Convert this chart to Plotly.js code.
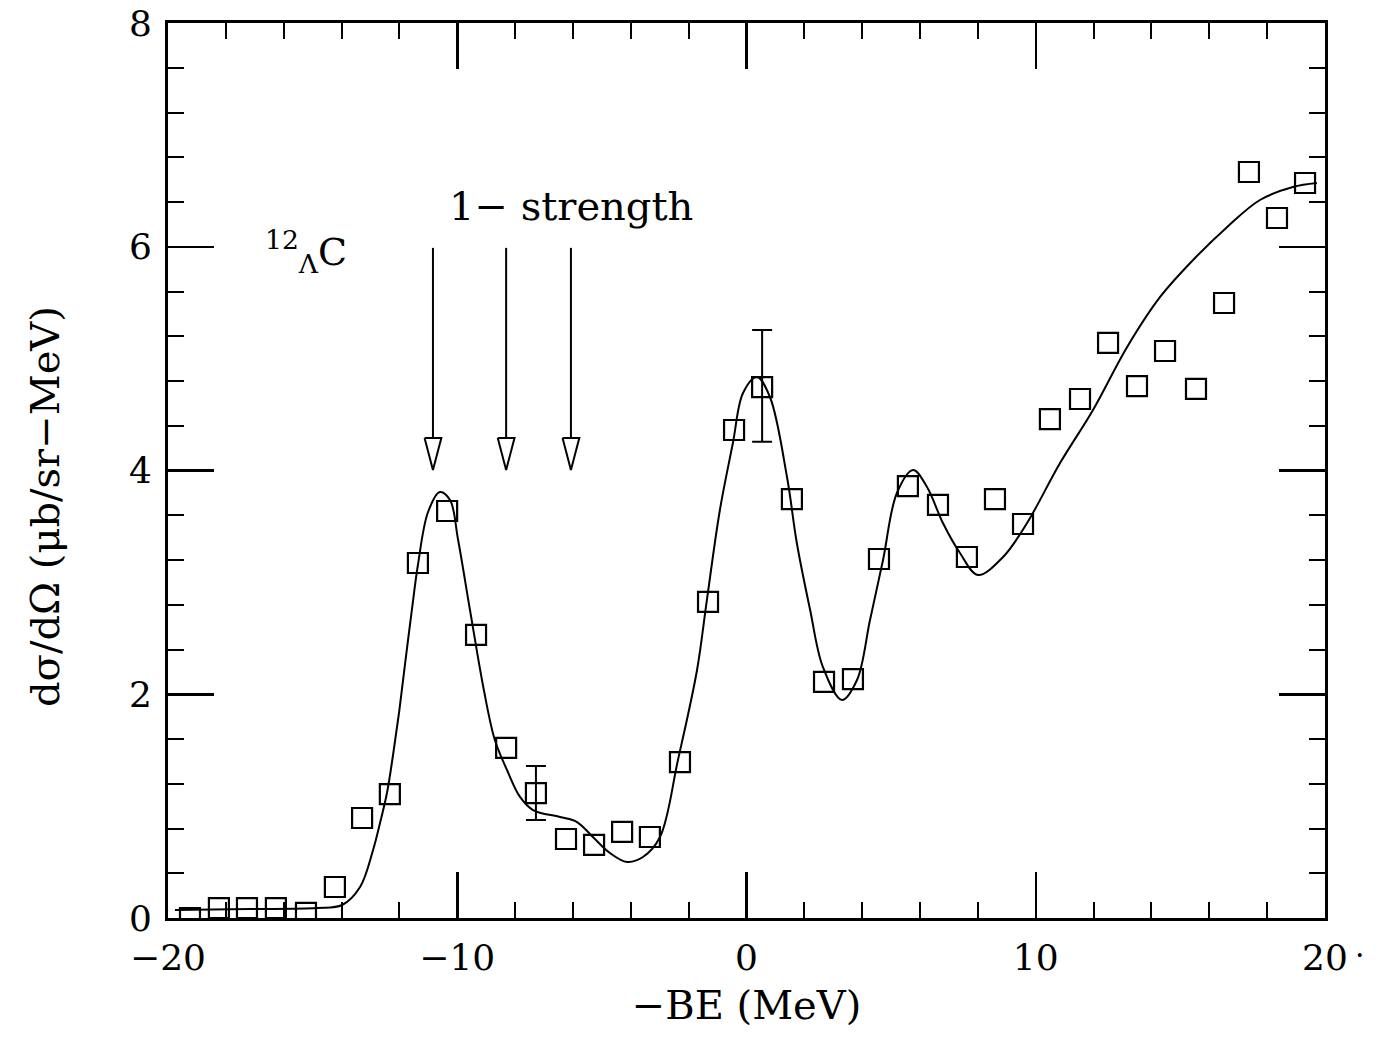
<!DOCTYPE html>
<html><head><meta charset="utf-8">
<script src="https://cdn.plot.ly/plotly-3.0.1.min.js"></script>
<style>body{margin:0;background:#fff}</style>
</head><body>
<div id="chart" style="width:1389px;height:1039px"></div>
<script>
// measured data points (-BE in MeV, cross section)
const dataX = [-19.24,-18.24,-17.27,-16.27,-15.23,-14.23,-13.29,-12.33,-11.36,-10.35,
  -9.35,-8.31,-7.28,-6.24,-5.27,-4.30,-3.34,-2.30,-1.33,-0.43,
  0.54,1.57,2.68,3.68,4.58,5.58,6.62,7.62,8.59,9.56,
  10.49,11.53,12.50,13.50,14.47,15.54,16.51,17.37,18.34,19.31];
const dataY = [0.0,0.089,0.089,0.089,0.045,0.277,0.894,1.108,3.173,3.638,
  2.53,1.52,1.117,0.706,0.653,0.769,0.724,1.394,2.825,4.362,
  4.746,3.745,2.11,2.136,3.209,3.861,3.692,3.227,3.745,3.522,
  4.46,4.639,5.14,4.755,5.068,4.729,5.497,6.668,6.257,6.57];
// points carrying error bars
const errX = [-7.28, 0.54];
const errY = [1.117, 4.746];
const errUp = [0.242, 0.51];
const errDown = [0.241, 0.49];
// fitted curve
const curveX = [-19.76,-17.17,-14.85,-13.98,-13.36,-12.91,-12.67,-12.43,-12.22,-12.01,
  -11.81,-11.56,-11.36,-11.01,-10.60,-10.25,-9.97,-9.56,-9.08,-8.70,
  -8.28,-7.83,-7.38,-6.45,-5.86,-5.31,-4.72,-4.13,-3.58,-2.99,
  -2.37,-1.71,-1.37,-0.92,-0.47,-0.12,0.36,0.81,1.40,1.74,
  2.20,2.64,3.30,3.82,4.27,4.72,5.20,5.76,6.24,6.79,
  7.38,8.00,8.87,9.70,10.84,11.98,13.16,14.30,15.44,16.62,
  17.75,18.89,19.72];
const curveY = [0.072,0.080,0.089,0.116,0.277,0.608,0.849,1.117,1.457,1.841,
  2.261,2.771,3.155,3.629,3.808,3.736,3.379,2.753,2.038,1.591,
  1.323,1.082,0.965,0.903,0.858,0.724,0.581,0.501,0.545,0.724,
  1.412,2.217,2.842,3.647,4.246,4.693,4.836,4.657,3.942,3.352,
  2.753,2.244,1.949,2.127,2.664,3.2,3.799,4.004,3.853,3.531,
  3.263,3.066,3.227,3.531,4.067,4.541,5.104,5.551,5.882,6.177,
  6.418,6.534,6.570];
// "1- strength" arrows
const arrowX = [-10.84, -8.31, -6.07];
const arrowTop = [5.99, 5.99, 5.99];
const arrowTip = [4.005, 4.005, 4.005];
const headTop = 4.29;
const headHalf = 0.29;
// axis ticks
const xTicks = [-20, -10, 0, 10, 20];
const yTicks = [0, 2, 4, 6, 8];

const ax = [], ay = [];
for (let i = 0; i < arrowX.length; i++) {
  const x = arrowX[i];
  ax.push(x, x, null, x - headHalf, x + headHalf, x, x - headHalf, null);
  ay.push(arrowTop[i], headTop, null, headTop, headTop, arrowTip[i], headTop, null);
}

const FONT = 'DejaVu Serif, Liberation Serif, serif';

const traces = [
  {x: curveX, y: curveY, mode: 'lines', type: 'scatter',
   line: {color: '#000', width: 2, shape: 'spline', smoothing: 1.0},
   hoverinfo: 'skip', showlegend: false},
  {x: dataX, y: dataY, mode: 'markers', type: 'scatter',
   marker: {symbol: 'square-open', size: 20, color: '#000', line: {width: 2.2, color: '#000'}},
   showlegend: false},
  {x: errX, y: errY, mode: 'markers', type: 'scatter',
   marker: {opacity: 0, size: 2},
   error_y: {type: 'data', symmetric: false, array: errUp, arrayminus: errDown,
             color: '#000', thickness: 2, width: 10},
   showlegend: false},
  {x: ax, y: ay, mode: 'lines', type: 'scatter',
   line: {color: '#000', width: 2}, hoverinfo: 'skip', showlegend: false}
];

const layout = {
  width: 1389, height: 1039,
  margin: {l: 168, r: 64, t: 23, b: 121},
  paper_bgcolor: '#fff', plot_bgcolor: '#fff',
  font: {family: FONT, color: '#000', size: 36},
  showlegend: false,
  xaxis: {
    range: [-20, 20], tickvals: xTicks, ticktext: xTicks.map(v => v < 0 ? '\u2212' + Math.abs(v) : String(v)),
    ticks: 'inside', ticklen: 46, tickwidth: 2.5, tickcolor: '#000',
    minor: {dtick: 2, ticks: 'inside', ticklen: 16, tickwidth: 2, tickcolor: '#000'},
    showline: true, linewidth: 3, linecolor: '#000', mirror: 'allticks',
    showgrid: false, zeroline: false,
    tickfont: {family: FONT, size: 36, color: '#000'},
    ticklabelstandoff: 6,
    title: {text: '\u2212BE (MeV)', font: {family: FONT, size: 40, color: '#000'}, standoff: 14}
  },
  yaxis: {
    range: [0, 8], tickvals: yTicks,
    ticks: 'inside', ticklen: 46, tickwidth: 2.5, tickcolor: '#000',
    minor: {dtick: 0.4, ticks: 'inside', ticklen: 16, tickwidth: 2, tickcolor: '#000'},
    showline: true, linewidth: 3, linecolor: '#000', mirror: 'allticks',
    showgrid: false, zeroline: false,
    tickfont: {family: FONT, size: 36, color: '#000'},
    ticklabelstandoff: 6
  },
  annotations: [
    {x: (45 - 168) / 1157, y: (918 - 507) / 895, xref: 'paper', yref: 'paper',
     xanchor: 'center', yanchor: 'middle',
     text: 'd\u03c3/d\u03a9 (\u03bcb/sr\u2212MeV)',
     showarrow: false, textangle: -90, font: {family: FONT, size: 40, color: '#000'}},
    {x: -6.07, y: 6.36, xref: 'x', yref: 'y', xanchor: 'center', yanchor: 'middle',
     text: '1\u2212 strength', showarrow: false,
     font: {family: FONT, size: 40, color: '#000'}},
    {x: -15.23, y: 5.96, xref: 'x', yref: 'y', xanchor: 'center', yanchor: 'middle',
     text: '<sup>12</sup><sub>\u039b</sub>C', showarrow: false,
     font: {family: FONT, size: 38, color: '#000'}},
    {x: (1360 - 168) / 1157, y: -0.041, xref: 'paper', yref: 'paper',
     xanchor: 'center', yanchor: 'middle', text: '\u00b7', showarrow: false,
     font: {family: FONT, size: 30, color: '#000'}}
  ]
};

Plotly.newPlot('chart', traces, layout, {displayModeBar: false, staticPlot: true});
</script>
</body></html>
